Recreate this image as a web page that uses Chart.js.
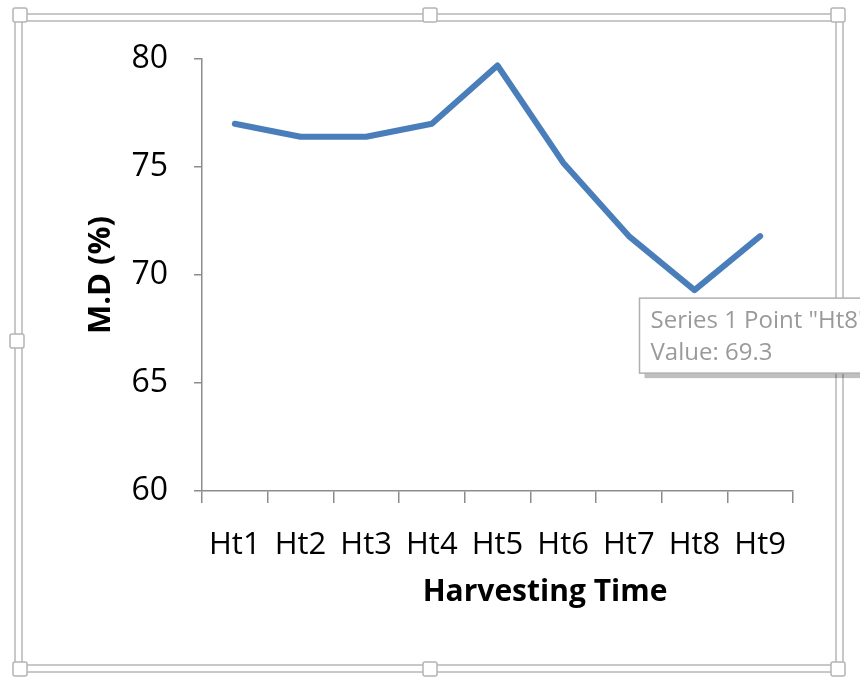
<!DOCTYPE html>
<html lang="en">
<head>
    <title>M.D by Harvesting Time</title>
    <script src="https://cdn.jsdelivr.net/npm/chart.js"></script>
    <style>
        body { margin: 0; background: #fff; }
        #wrap { width: 860px; height: 679px; }
    </style>
</head>
<body>
    <div id="wrap"><canvas id="mdChart"></canvas></div>
    <script>
        const harvestTimes = ['Ht1', 'Ht2', 'Ht3', 'Ht4', 'Ht5', 'Ht6', 'Ht7', 'Ht8', 'Ht9'];
        const mdValues = [77.0, 76.4, 76.4, 77.0, 79.7, 75.2, 71.8, 69.3, 71.8];
        const yTicks = [60, 65, 70, 75, 80];
        const seriesName = 'Series 1';
        const hoverIndex = 7;

        const FONT = "'Open Sans', 'Liberation Sans', sans-serif";
        const axisGray = '#8c8c8c';

        // selection frame with handles around the chart object
        const framePlugin = {
            id: 'frame',
            beforeDraw(chart) {
                const ctx = chart.ctx;
                ctx.save();
                ctx.fillStyle = '#fff';
                ctx.fillRect(0, 0, chart.width, chart.height);
                ctx.strokeStyle = '#c8c8c8';
                ctx.lineWidth = 2;
                ctx.strokeRect(15, 14, 828, 658);
                ctx.strokeRect(22, 21, 814, 644);
                const handles = [[20, 15], [430, 15], [838, 15], [17, 341], [838, 341], [20, 669], [430, 669], [838, 669]];
                handles.forEach(([x, y]) => {
                    ctx.fillStyle = '#fff';
                    ctx.fillRect(x - 7, y - 7, 14, 14);
                    ctx.strokeStyle = '#b4b4b4';
                    ctx.lineWidth = 1.5;
                    ctx.beginPath();
                    ctx.roundRect(x - 7, y - 7, 14, 14, 2);
                    ctx.stroke();
                });
                ctx.restore();
            },
            afterDraw(chart) {
                const ctx = chart.ctx;
                ctx.save();
                // x axis title
                ctx.fillStyle = '#000';
                ctx.font = 'bold 30px ' + FONT;
                ctx.textAlign = 'center';
                ctx.textBaseline = 'middle';
                ctx.fillText('Harvesting Time', 545, 592);

                // hover box for one point
                const pt = chart.getDatasetMeta(0).data[hoverIndex];
                const bx = pt.x - 55, by = pt.y + 8;
                ctx.fillStyle = 'rgba(0,0,0,0.25)';
                ctx.fillRect(bx + 5, by + 5, 240, 75);
                ctx.fillStyle = '#fff';
                ctx.fillRect(bx, by, 240, 75);
                ctx.strokeStyle = '#b0b0b0';
                ctx.lineWidth = 1.5;
                ctx.strokeRect(bx, by, 240, 75);
                ctx.fillStyle = '#9a9a9a';
                ctx.font = '24px ' + FONT;
                ctx.textAlign = 'left';
                ctx.textBaseline = 'alphabetic';
                ctx.fillText(seriesName + ' Point "' + harvestTimes[hoverIndex] + '"', bx + 11, by + 30);
                ctx.fillText('Value: ' + mdValues[hoverIndex], bx + 11, by + 62);
                ctx.restore();
            }
        };

        new Chart(document.getElementById('mdChart'), {
            type: 'line',
            data: {
                labels: harvestTimes,
                datasets: [{
                    label: seriesName,
                    data: mdValues,
                    borderColor: '#4a7ebb',
                    borderWidth: 6,
                    borderCapStyle: 'round',
                    borderJoinStyle: 'round',
                    pointRadius: 0,
                    tension: 0
                }]
            },
            options: {
                responsive: true,
                maintainAspectRatio: false,
                animation: false,
                events: [],
                layout: { padding: { left: 83, right: 67, top: 59, bottom: 75 } },
                plugins: {
                    legend: { display: false },
                    tooltip: { enabled: false }
                },
                scales: {
                    x: {
                        offset: true,
                        grid: { offset: true, drawOnChartArea: false, tickLength: 12, color: axisGray, lineWidth: 1.5 },
                        border: { color: axisGray, width: 1.5 },
                        ticks: { color: '#000', font: { family: FONT, size: 31 }, padding: 24, maxRotation: 0, autoSkip: false },
                        afterFit(scale) { scale.height = 113; }
                    },
                    y: {
                        min: 60,
                        max: 80,
                        afterBuildTicks(scale) { scale.ticks = yTicks.map(v => ({ value: v })); },
                        grid: { drawOnChartArea: false, tickLength: 8, color: axisGray, lineWidth: 1.5 },
                        border: { color: axisGray, width: 1.5 },
                        ticks: { color: '#000', font: { family: FONT, size: 32 }, padding: 26 },
                        title: { display: true, text: 'M.D (%)', color: '#000', font: { family: FONT, size: 31, weight: 'bold' }, padding: { top: 0, bottom: 10 } },
                        afterFit(scale) { scale.width = 119; }
                    }
                }
            },
            plugins: [framePlugin]
        });
    </script>
</body>
</html>
